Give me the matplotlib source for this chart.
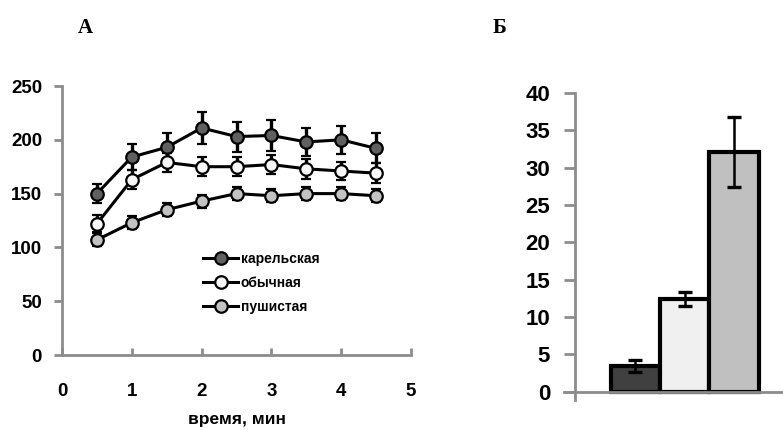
import matplotlib
matplotlib.use('Agg')
import matplotlib.pyplot as plt
from matplotlib.lines import Line2D

# panel A data
time_min = [0.5, 1.0, 1.5, 2.0, 2.5, 3.0, 3.5, 4.0, 4.5]
karel = [150, 184, 193, 211, 203, 204, 198, 200, 192]
karel_err = [9, 12, 13, 15, 14, 14, 13, 13, 14]
obych = [122, 163, 179, 175, 175, 177, 173, 171, 169]
obych_err = [8, 9, 9, 9, 9, 9, 9, 8, 9]
push = [107, 123, 135, 143, 150, 148, 150, 150, 148]
push_err = [6, 6, 6, 6, 6, 6, 6, 6, 6]
series_names = ['карельская', 'обычная', 'пушистая']

# panel B data
bar_vals = [3.5, 12.4, 32.1]
bar_err = [0.8, 0.9, 4.7]

plt.rcParams['font.family'] = ['Liberation Sans', 'DejaVu Sans']
plt.rcParams['font.weight'] = 'bold'

fig = plt.figure(figsize=(7.83, 4.30), dpi=100)
axis_grey = '#8c8c8c'

# ---- panel A ----
ax1 = fig.add_axes([62 / 783, 1 - 355 / 430, 349 / 783, 269 / 430])
styles = [('#606060', karel, karel_err),
          ('#f7f7f7', obych, obych_err),
          ('#c3c3c3', push, push_err)]
handles = []
for (face, vals, errs), name in zip(styles, series_names):
    ax1.errorbar(time_min, vals, yerr=errs, color='black', lw=2.2,
                 elinewidth=2.4, capsize=3.5, capthick=2.4,
                 marker='o', markersize=9, markerfacecolor=face,
                 markeredgecolor='black', markeredgewidth=1.6, zorder=3)
    # legend shows line + marker only, no error bar
    handles.append(Line2D([], [], color='black', lw=2.2, marker='o',
                          markersize=9, markerfacecolor=face,
                          markeredgecolor='black', markeredgewidth=1.6,
                          label=name))
ax1.set_xlim(0, 5)
ax1.set_ylim(0, 250)
ax1.set_xticks(range(0, 6))
ax1.set_yticks(range(0, 251, 50))
for s in ['top', 'right']:
    ax1.spines[s].set_visible(False)
for s in ['left', 'bottom']:
    ax1.spines[s].set_color(axis_grey)
    ax1.spines[s].set_linewidth(2)
ax1.tick_params(axis='y', direction='out', length=6, width=2,
                color=axis_grey, pad=8.4, labelsize=13.5)
ax1.tick_params(axis='x', direction='in', length=5, width=2,
                color=axis_grey, pad=20, labelsize=13.5)
ax1.set_xlabel('время, мин', fontsize=12.5, fontweight='bold', labelpad=9)

leg = ax1.legend(handles=handles, loc='upper left', bbox_to_anchor=(0.385, 0.41),
                 frameon=False, fontsize=10, handlelength=2.5,
                 handletextpad=0.2, labelspacing=0.72, borderpad=0)
for t in leg.get_texts():
    t.set_fontweight('bold')

fig.text(85 / 783, 1 - 28 / 430, 'А', family='Liberation Serif',
         fontsize=15, fontweight='bold', ha='center', va='center')

# ---- panel B ----
ax2 = fig.add_axes([564 / 783, 1 - 400 / 430, 219 / 783, 307 / 430])
bar_colors = ['#404040', '#f0f0f0', '#c0c0c0']
xpos = range(len(bar_vals))
ax2.bar(xpos, bar_vals, width=1.0, color=bar_colors, edgecolor='black',
        linewidth=3, zorder=2)
ax2.errorbar(xpos, bar_vals, yerr=bar_err, fmt='none', ecolor='black',
             elinewidth=1.8, capsize=5, capthick=2.4, zorder=3)
ax2.set_xlim(-1.445, 2.988)
ax2.set_ylim(-1.1, 40)
ax2.set_yticks(range(0, 41, 5))
ax2.set_xticks([])
for s in ['top', 'right']:
    ax2.spines[s].set_visible(False)
for s in ['left', 'bottom']:
    ax2.spines[s].set_color(axis_grey)
    ax2.spines[s].set_linewidth(2)
ax2.spines['left'].set_position(('data', -1.222))
ax2.spines['bottom'].set_position(('data', 0))
ax2.tick_params(axis='y', direction='out', length=8, width=2,
                color=axis_grey, pad=10, labelsize=16)

fig.text(500 / 783, 1 - 28 / 430, 'Б', family='Liberation Serif',
         fontsize=15, fontweight='bold', ha='center', va='center')

fig.savefig('out.png', dpi=100)
